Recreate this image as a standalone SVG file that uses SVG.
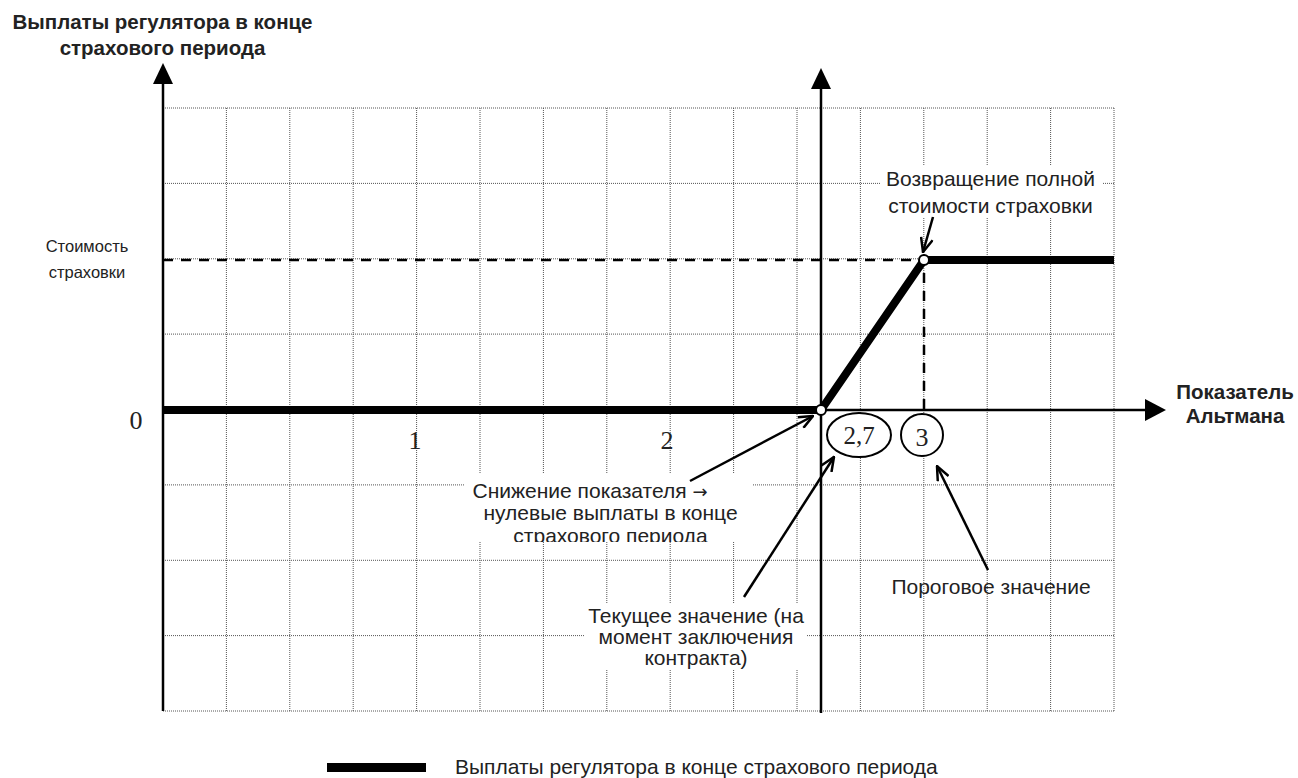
<svg xmlns="http://www.w3.org/2000/svg" width="1298" height="778" viewBox="0 0 1298 778">
<defs>
<style>
.grid{stroke:#555;stroke-width:1;stroke-dasharray:1 1;fill:none}
.axis{stroke:#000;stroke-width:2.5;fill:none}
.pay{stroke:#000;stroke-width:8;fill:none;stroke-linejoin:miter}
.dash{stroke:#000;stroke-width:2.5;stroke-dasharray:10 8;fill:none}
.ann{stroke:#000;stroke-width:2.5;fill:none}
.lbl{font-family:"Liberation Sans",Arial,sans-serif;font-size:21px;fill:#222}
.bold{font-family:"Liberation Sans",Arial,sans-serif;font-size:20.5px;font-weight:bold;fill:#222}
.num{font-family:"Liberation Serif","Times New Roman",serif;fill:#222}
.box{fill:#fff;stroke:none}
</style>
<marker id="open" viewBox="0 0 16 14" refX="15" refY="7" markerWidth="16" markerHeight="14" markerUnits="userSpaceOnUse" orient="auto">
<path d="M1,1 L15,7 L1,13" fill="none" stroke="#000" stroke-width="2.5"/>
</marker>
<clipPath id="clipSn"><rect x="440" y="460" width="340" height="82"/></clipPath>
</defs>
<rect width="1298" height="778" fill="#fff"/>

<g id="grid">
<path class="grid" d="M226.4,108V711M289.8,108V711M353.2,108V711M416.6,108V711M480,108V711M543.4,108V711M606.8,108V711M670.2,108V711M733.6,108V711M797,108V711M860.4,108V711M923.8,108V711M987.2,108V711M1050.6,108V711M1114,108V711"/>
<path class="grid" d="M163,108H1114M163,183.4H1114M163,258.8H1114M163,334.1H1114M163,484.9H1114M163,560.3H1114M163,635.6H1114M163,711H1114"/>
</g>

<g id="title">
<text class="bold" x="162.5" y="29" text-anchor="middle">Выплаты регулятора в конце</text>
<text class="bold" x="162.5" y="55" text-anchor="middle">страхового периода</text>
</g>

<g id="cost-label">
<text class="lbl" x="87" y="252" text-anchor="middle" style="font-size:16.5px">Стоимость</text>
<text class="lbl" x="87" y="278" text-anchor="middle" style="font-size:16.5px">страховки</text>
</g>

<g id="x-label">
<text class="bold" x="1235" y="399" text-anchor="middle">Показатель</text>
<text class="bold" x="1235" y="423" text-anchor="middle">Альтмана</text>
</g>

<g id="ticks">
<text class="num" x="136" y="429" text-anchor="middle" font-size="26">0</text>
<text class="num" x="415" y="449" text-anchor="middle" font-size="26">1</text>
<text class="num" x="667" y="449" text-anchor="middle" font-size="26">2</text>
</g>

<g id="dashed">
<path class="dash" d="M163,260H924V410"/>
</g>

<g id="axes">
<path class="axis" d="M163,711V80"/>
<polygon points="153,84 173,84 163,63" fill="#000"/>
<path class="axis" d="M821,713V86"/>
<polygon points="811,89 831,89 821,68" fill="#000"/>
<path class="axis" d="M163,410H1148"/>
<polygon points="1145,399 1145,421 1166,410" fill="#000"/>
</g>

<g id="payout">
<path class="pay" d="M163,410H821L924,260H1114"/>
<circle cx="821" cy="410" r="5" fill="#fff" stroke="#000" stroke-width="2"/>
<circle cx="924" cy="260" r="5" fill="#fff" stroke="#000" stroke-width="2"/>
</g>

<g id="val-27">
<ellipse cx="859" cy="435" rx="32" ry="22" fill="#fff" stroke="#000" stroke-width="2"/>
<text class="num" x="859" y="444" text-anchor="middle" font-size="25">2,7</text>
</g>
<g id="val-3">
<circle cx="922" cy="435" r="21" fill="#fff" stroke="#000" stroke-width="2"/>
<text class="num" x="922" y="446" text-anchor="middle" font-size="26">3</text>
</g>

<g id="note-return">
<rect class="box" x="880" y="166" width="223" height="52"/>
<text class="lbl" x="990.5" y="186" text-anchor="middle">Возвращение полной</text>
<text class="lbl" x="990.5" y="213" text-anchor="middle">стоимости страховки</text>
</g>

<g id="note-decline">
<rect class="box" x="465" y="474" width="288" height="68"/>
<g clip-path="url(#clipSn)">
<text class="lbl" x="590" y="498" text-anchor="middle">Снижение показателя <tspan font-family="'DejaVu Sans',sans-serif" font-size="18">→</tspan></text>
<text class="lbl" x="610.5" y="520" text-anchor="middle">нулевые выплаты в конце</text>
<text class="lbl" x="610.5" y="543" text-anchor="middle">страхового периода</text>
</g>
</g>

<g id="note-current">
<rect class="box" x="585" y="603" width="222" height="67"/>
<text class="lbl" x="696" y="623" text-anchor="middle">Текущее значение (на</text>
<text class="lbl" x="696" y="644" text-anchor="middle">момент заключения</text>
<text class="lbl" x="696" y="665" text-anchor="middle">контракта)</text>
</g>

<g id="note-threshold">
<text class="lbl" x="991" y="594" text-anchor="middle">Пороговое значение</text>
</g>

<g id="connectors">
<line class="ann" x1="933" y1="217" x2="923" y2="252" marker-end="url(#open)"/>
<line class="ann" x1="690" y1="481" x2="813" y2="416" marker-end="url(#open)"/>
<line class="ann" x1="744" y1="597" x2="834" y2="457" marker-end="url(#open)"/>
<line class="ann" x1="988" y1="570" x2="937" y2="466" marker-end="url(#open)"/>
</g>

<g id="legend">
<rect x="327" y="763" width="99" height="9" fill="#000"/>
<text class="lbl" x="455" y="774">Выплаты регулятора в конце страхового периода</text>
</g>
</svg>
